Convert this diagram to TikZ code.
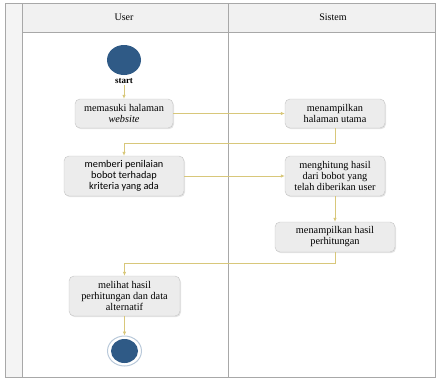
\documentclass[tikz,border=0pt]{standalone}
\usepackage{fontspec}
\setmainfont{Liberation Serif}
\newfontfamily\calib{Carlito}
\usetikzlibrary{shapes.geometric,shadows,arrows.meta}
\definecolor{lanegray}{HTML}{A8A8A8}
\definecolor{headfill}{HTML}{F1F1F1}
\definecolor{boxfill}{HTML}{ECECEC}
\definecolor{boxdraw}{HTML}{C4C4C4}
\definecolor{flow}{HTML}{D8C77A}
\definecolor{dotblue}{HTML}{2F5A86}
\definecolor{ringblue}{HTML}{B9C9DA}
\tikzset{
  actbox/.style={draw=boxdraw, fill=boxfill, rounded corners=5pt, align=center,
    inner sep=2pt, font=\fontsize{10.3}{11}\selectfont,
    drop shadow={opacity=0.22, shadow xshift=1pt, shadow yshift=-1.2pt}},
  flowline/.style={draw=flow, line width=0.7pt, -{Latex[length=4pt,width=3.5pt]}},
  lane/.style={draw=lanegray, line width=0.6pt},
  headtext/.style={font=\fontsize{10}{12}\selectfont}
}
\begin{document}
\begin{tikzpicture}[x=1pt,y=-1pt]
\useasboundingbox (0,0) rectangle (437,380);
% swimlane frame
\fill[headfill] (22,3) rectangle (435,32);
\fill[headfill!80!white] (5,3) rectangle (22,377);
\draw[lane] (5,3) rectangle (435,377);
\draw[lane] (22,3) -- (22,377);
\draw[lane] (22,32) -- (435,32);
\draw[lane] (228,3) -- (228,377);
\node[headtext] (huser) at (124,17.5) {User};
\node[headtext] (hsys) at (333,17.5) {Sistem};
% nodes
\node[ellipse, fill=dotblue, minimum width=34pt, minimum height=30pt, inner sep=0pt] (start) at (124,60) {};
\node[font=\fontsize{9}{10}\selectfont\bfseries, inner sep=1pt] (startlbl) at (124,81.5) {start};
\node[actbox, minimum width=98pt, minimum height=29pt] (b1) at (124,113.5) {memasuki halaman\\\textit{website}};
\node[actbox, minimum width=100pt, minimum height=29pt] (b2) at (335,113.5) {menampilkan\\halaman utama};
\node[actbox, minimum width=120pt, minimum height=40pt, font=\calib\fontsize{10.3}{11}\selectfont] (b3) at (124,176) {memberi penilaian\\bobot terhadap\\kriteria yang ada};
\node[actbox, minimum width=100pt, minimum height=40pt] (b4) at (335,176) {menghitung hasil\\dari bobot yang\\telah diberikan user};
\node[actbox, minimum width=120pt, minimum height=30pt] (b5) at (335,237) {menampilkan hasil\\perhitungan};
\node[actbox, minimum width=111pt, minimum height=40pt] (b6) at (124.5,296) {melihat hasil\\perhitungan dan data\\alternatif};
\node[ellipse, fill=white, draw=ringblue, line width=1pt, minimum width=34pt, minimum height=30pt, inner sep=0pt] (end) at (124.5,351) {};
\node[ellipse, fill=dotblue, minimum width=27pt, minimum height=24pt, inner sep=0pt] (endin) at (124.5,351) {};
% connectors
\draw[flowline] (startlbl.south) -- (b1.north);
\draw[flowline] (b1.east) -- (b2.west);
\draw[flowline] (b2.south) -- ++(0,15) -| (b3.north);
\draw[flowline] (b3.east) -- (b4.west);
\draw[flowline] (b4.south) -- (b5.north);
\draw[flowline] (b5.south) -- ++(0,11) -| (b6.north);
\draw[flowline] (b6.south) -- (end.north);
\end{tikzpicture}
\end{document}
